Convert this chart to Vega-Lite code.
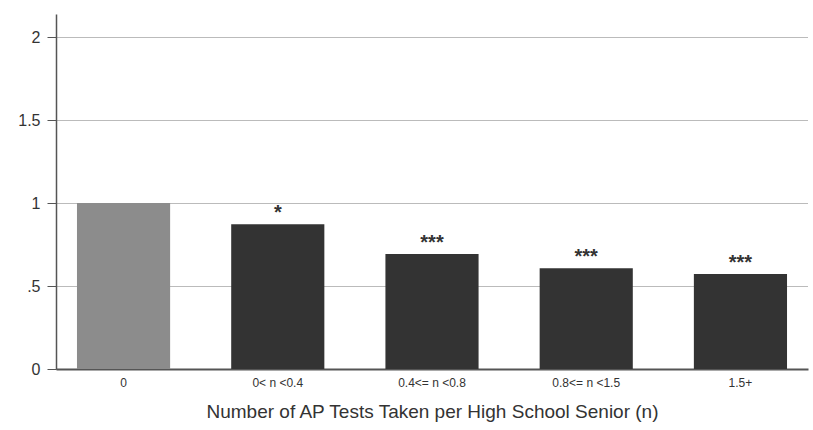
{
  "$schema": "https://vega.github.io/schema/vega-lite/v6.json",
  "width": 752,
  "height": 355,
  "autosize": {"type": "none"},
  "padding": {"left": 56, "top": 14, "right": 5, "bottom": 61},
  "background": "white",
  "data": {
    "values": [
      {"group": "0", "ratio": 1.0, "sig": "", "ref": "yes"},
      {"group": "0< n <0.4", "ratio": 0.873, "sig": "*", "ref": "no"},
      {"group": "0.4<= n <0.8", "ratio": 0.693, "sig": "***", "ref": "no"},
      {"group": "0.8<= n <1.5", "ratio": 0.608, "sig": "***", "ref": "no"},
      {"group": "1.5+", "ratio": 0.572, "sig": "***", "ref": "no"}
    ]
  },
  "config": {
    "view": {"stroke": null},
    "font": "Liberation Sans"
  },
  "encoding": {
    "x": {
      "field": "group",
      "type": "nominal",
      "sort": null,
      "scale": {"paddingInner": 0.396, "paddingOuter": 0.136},
      "axis": {
        "title": "Number of AP Tests Taken per High School Senior (n)",
        "titleFont": "Liberation Sans",
        "titleFontSize": 19,
        "titleFontWeight": "normal",
        "titleColor": "#333333",
        "titlePadding": 14,
        "labelAngle": 0,
        "labelFont": "Liberation Sans",
        "labelFontSize": 12,
        "labelColor": "#333333",
        "labelPadding": 8,
        "ticks": false,
        "domain": true,
        "domainColor": "#555555",
        "domainWidth": 2,
        "grid": false
      }
    },
    "y": {
      "field": "ratio",
      "type": "quantitative",
      "scale": {"domain": [0, 2.14], "nice": false},
      "axis": {
        "title": null,
        "values": [0, 0.5, 1, 1.5, 2],
        "labelExpr": "datum.value == 0.5 ? '.5' : toString(datum.value)",
        "labelFont": "Liberation Sans",
        "labelFontSize": 16,
        "labelColor": "#333333",
        "labelPadding": 7,
        "tickSize": 9,
        "tickColor": "#555555",
        "domainColor": "#555555",
        "domainWidth": 1.5,
        "grid": true,
        "gridColor": "#777777",
        "gridDash": [1, 1],
        "gridWidth": 1
      }
    }
  },
  "layer": [
    {
      "mark": {"type": "bar"},
      "encoding": {
        "color": {
          "field": "ref",
          "type": "nominal",
          "scale": {"domain": ["yes", "no"], "range": ["#8c8c8c", "#333333"]},
          "legend": null
        }
      }
    },
    {
      "mark": {"type": "text", "dy": -1, "baseline": "bottom", "fontSize": 20, "fontWeight": "bold", "color": "#333333", "font": "Liberation Sans"},
      "encoding": {"text": {"field": "sig"}}
    }
  ]
}
